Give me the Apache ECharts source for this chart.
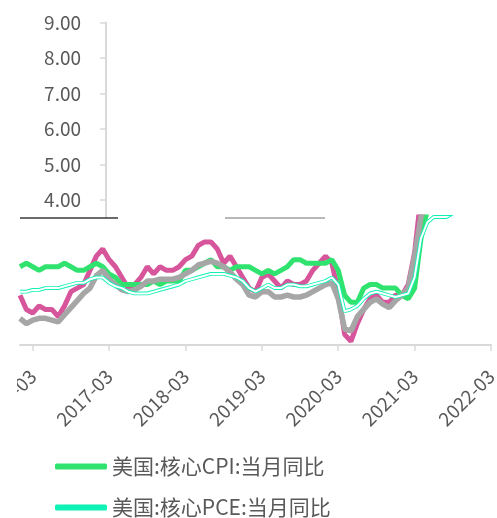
<!DOCTYPE html>
<html><head><meta charset="utf-8">
<script src="https://cdn.jsdelivr.net/npm/echarts@6/dist/echarts.min.js"></script>
<style>html,body{margin:0;padding:0;background:#fff}#c{width:497px;height:518px}</style>
</head><body><div id="c"></div>
<script>
// months 2016-01 .. 2022-03
const months = [];
for (let y = 2016; y <= 2022; y++) for (let m = 1; m <= 12; m++) { if (y === 2022 && m > 3) break; months.push(y + '-' + String(m).padStart(2, '0')); }

const upperTicks = [4, 5, 6, 7, 8, 9];

const coreCPI = [
  2.2, 2.3, 2.2, 2.1, 2.2, 2.2, 2.2, 2.3, 2.2, 2.1, 2.1, 2.2,
  2.3, 2.2, 2.0, 1.9, 1.7, 1.7, 1.7, 1.7, 1.7, 1.8, 1.7, 1.8,
  1.8, 1.8, 2.1, 2.1, 2.2, 2.3, 2.4, 2.2, 2.2, 2.1, 2.2, 2.2,
  2.2, 2.1, 2.0, 2.1, 2.0, 2.1, 2.2, 2.4, 2.4, 2.3, 2.3, 2.3,
  2.3, 2.4, 2.1, 1.4, 1.2, 1.2, 1.6, 1.7, 1.7, 1.6, 1.6, 1.6,
  1.4, 1.3, 1.6, 3.0, 3.8, 4.5, 4.3, 4.0, 4.0, 4.6, 4.9, 5.5,
  6.0, 6.4, 6.5
];
const corePCE = [
  1.5, 1.5, 1.55, 1.55, 1.6, 1.6, 1.6, 1.65, 1.7, 1.75, 1.75, 1.85,
  1.9, 1.9, 1.75, 1.65, 1.6, 1.5, 1.45, 1.45, 1.45, 1.5, 1.55, 1.6,
  1.65, 1.7, 1.8, 1.85, 1.9, 1.95, 2.0, 2.0, 2.0, 1.95, 1.9, 1.8,
  1.6, 1.5, 1.6, 1.7, 1.6, 1.6, 1.7, 1.7, 1.65, 1.65, 1.7, 1.75,
  1.8, 1.9, 1.7, 0.95, 1.0, 1.1, 1.3, 1.45, 1.5, 1.45, 1.4, 1.35,
  1.4, 1.45, 1.9, 3.0, 3.45, 3.6, 3.6, 3.6, 3.7, 4.2, 4.7, 4.9,
  5.2, 5.4, 5.2
];
const headlineCPI = [
  1.4, 1.0, 0.9, 1.1, 1.0, 1.0, 0.8, 1.1, 1.5, 1.6, 1.7, 2.1,
  2.5, 2.7, 2.4, 2.2, 1.9, 1.6, 1.7, 1.9, 2.2, 2.0, 2.2, 2.1,
  2.1, 2.2, 2.4, 2.5, 2.8, 2.9, 2.9, 2.7, 2.3, 2.5, 2.2, 1.9,
  1.6, 1.5, 1.9, 2.0, 1.8, 1.6, 1.8, 1.7, 1.7, 1.8, 2.1, 2.3,
  2.5, 2.3, 1.5, 0.3, 0.1, 0.6, 1.0, 1.3, 1.4, 1.2, 1.2, 1.4,
  1.4, 1.7, 2.6, 4.2, 5.0, 5.4, 5.4, 5.3, 5.4, 6.2, 6.8, 7.0,
  7.5, 7.9, 8.5
];
const headlinePCE = [
  0.75, 0.6, 0.7, 0.75, 0.75, 0.7, 0.65, 0.85, 1.05, 1.25, 1.45, 1.6,
  1.95, 2.1, 1.85, 1.7, 1.55, 1.5, 1.55, 1.65, 1.8, 1.8, 1.85, 1.85,
  1.85, 1.9, 2.0, 2.1, 2.25, 2.3, 2.35, 2.3, 2.2, 2.05, 1.85, 1.7,
  1.4, 1.35, 1.5, 1.5, 1.35, 1.35, 1.4, 1.35, 1.35, 1.4, 1.5, 1.6,
  1.7, 1.75, 1.3, 0.45, 0.4, 0.8, 1.0, 1.2, 1.3, 1.15, 1.05, 1.25,
  1.4, 1.6, 2.5, 3.6, 4.0, 4.0, 4.2, 4.3, 4.4, 5.1, 5.7, 5.8,
  6.1, 6.4, 6.6
];

const FONT = 'Noto Sans CJK SC';
const isMarch = (i, v) => String(v).slice(5) === '03';
const legendText = {fontSize: 21, lineHeight: 20, color: '#595959', fontFamily: FONT};

const chart = echarts.init(document.getElementById('c'), null, {renderer: 'canvas'});
chart.setOption({
  backgroundColor: '#fff',
  animation: false,
  grid: [
    {left: 106, top: 22.5, width: 100, height: 195.5, outerBoundsMode: 'none', containLabel: false},
    {left: 20, right: 6, top: 217, bottom: 173, outerBoundsMode: 'none', containLabel: false}
  ],
  xAxis: [
    {gridIndex: 0, type: 'value', show: false},
    {gridIndex: 1, type: 'category', data: months, boundaryGap: false,
      axisLine: {lineStyle: {color: '#d9d9d9', width: 2}},
      axisTick: {interval: isMarch, length: 6, lineStyle: {color: '#d9d9d9', width: 1.5}},
      axisLabel: {interval: isMarch, rotate: 45, margin: 28,
        fontSize: 19, color: '#595959', fontFamily: FONT}
    }
  ],
  yAxis: [
    {gridIndex: 0, type: 'value', min: 3.5, max: 9,
      axisLine: {show: true, lineStyle: {color: '#d9d9d9', width: 2}},
      axisTick: {show: true, customValues: upperTicks, length: 6, lineStyle: {color: '#d9d9d9', width: 1.5}},
      axisLabel: {customValues: upperTicks, margin: 25, fontSize: 19, color: '#595959', fontFamily: FONT,
        formatter: v => Number(v).toFixed(2)},
      splitLine: {show: false}
    },
    {gridIndex: 1, type: 'value', min: 0, max: 3.6, show: false, splitLine: {show: false}}
  ],
  legend: [
    {left: 55, top: 456, padding: 0, itemWidth: 52, itemHeight: 6, icon: 'roundRect',
      data: ['美国:核心CPI:当月同比'], textStyle: legendText},
    {left: 55, bottom: 0, padding: 0, itemWidth: 52, itemHeight: 6, icon: 'roundRect',
      data: ['美国:核心PCE:当月同比'], textStyle: legendText}
  ],
  series: [
    {name: '美国:CPI:当月同比', type: 'line', xAxisIndex: 1, yAxisIndex: 1, data: headlineCPI, showSymbol: false, clip: true,
      lineStyle: {color: '#d6559b', width: 5}, itemStyle: {color: '#d6559b'}},
    {name: '美国:核心CPI:当月同比', type: 'line', xAxisIndex: 1, yAxisIndex: 1, data: coreCPI, showSymbol: false, clip: true,
      lineStyle: {color: '#30e36e', width: 5}, itemStyle: {color: '#30e36e'}},
    {name: '美国:PCE:当月同比', type: 'line', xAxisIndex: 1, yAxisIndex: 1, data: headlinePCE, showSymbol: false, clip: true,
      lineStyle: {color: '#a6a6a6', width: 5.5}, itemStyle: {color: '#a6a6a6'}},
    {name: '美国:核心PCE:当月同比', type: 'line', xAxisIndex: 1, yAxisIndex: 1, data: corePCE, showSymbol: false, clip: true,
      lineStyle: {color: '#0ff2b6', width: 3.8}, itemStyle: {color: '#0ff2b6'}},
    {name: 'pceCore', type: 'line', xAxisIndex: 1, yAxisIndex: 1, data: corePCE, showSymbol: false, clip: true,
      lineStyle: {color: '#ffffff', width: 2}, itemStyle: {color: '#ffffff'}, silent: true}
  ],
  graphic: [
    {type: 'line', shape: {x1: 20, y1: 218, x2: 118, y2: 218}, style: {stroke: '#3a3a3a', lineWidth: 1.5}, z: 100},
    {type: 'line', shape: {x1: 225, y1: 218, x2: 325, y2: 218}, style: {stroke: '#a0a0a0', lineWidth: 1.5}, z: 100},
    {type: 'rect', shape: {x: 0, y: 350, width: 17, height: 90}, style: {fill: '#fff'}, z: 100}
  ]
});
</script>
</body></html>
